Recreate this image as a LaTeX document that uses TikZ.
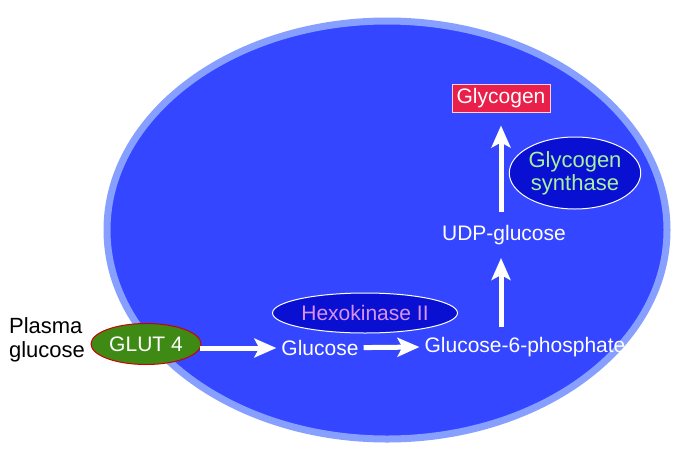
\documentclass[tikz,border=0pt]{standalone}
\usepackage{fontspec}
\setmainfont{Liberation Sans}
\usepackage{tikz}
\usetikzlibrary{arrows.meta,shapes.geometric}

\definecolor{cellblue}{RGB}{52,70,255}
\definecolor{cellrim}{RGB}{135,160,255}
\definecolor{enzblue}{RGB}{10,16,210}
\definecolor{glutgreen}{RGB}{62,138,20}
\definecolor{glyred}{RGB}{232,32,74}
\definecolor{hexoviolet}{RGB}{216,146,240}
\definecolor{synthgreen}{RGB}{168,240,160}

\tikzset{
  lbl/.style={font=\fontsize{21}{24}\selectfont, inner sep=2pt},
  enzyme/.style={lbl, ellipse, draw=white, line width=1pt, fill=enzblue},
  flow/.style={white, line width=5pt, -{Stealth[length=22pt,width=19pt,inset=5pt]}}
}

\begin{document}
\begin{tikzpicture}[x=1pt,y=-1pt]
\useasboundingbox (0,0) rectangle (700,466);

% the cell
\draw[cellrim, line width=7pt, fill=cellblue] (387,230) ellipse (280 and 209);

% outside
\node[lbl, align=left, font=\fontsize{22}{24}\selectfont] (plasma) at (47,340) {Plasma\\glucose};
\node[lbl, ellipse, draw=red!80!black, line width=1pt, fill=glutgreen, text=white,
      inner sep=0pt, minimum width=110pt, minimum height=41pt] (glut) at (146,344) {GLUT 4};

% metabolites
\node[lbl, white] (glc) at (320,348) {Glucose};
\node[lbl, white] (g6p) at (525,347) {Glucose-6-phosphate};
\node[lbl, white] (udp) at (504,235) {UDP-glucose};
\node[lbl, fill=glyred, draw=white!80!glyred, line width=1pt, text=white,
      minimum width=98pt, minimum height=28pt] (glyc) at (501,98) {Glycogen};

% enzymes
\node[enzyme, text=hexoviolet, inner sep=0pt, minimum width=185pt, minimum height=40pt] (hexo) at (365,313) {Hexokinase II};
\node[enzyme, text=synthgreen, align=center, inner sep=0pt, minimum width=110pt, minimum height=72pt,
      font=\fontsize{22}{23}\selectfont] (synth) at (575,173) {Glycogen\\synthase};

% arrows
\draw[flow, shorten <=-2pt, shorten >=3pt] (glut.east |- glc) -- (glc.west);
\draw[flow, shorten <=3pt, shorten >=3pt] (glc) -- (g6p.west);
\draw[flow, shorten <=8pt, shorten >=11pt] (g6p.north -| glyc) -- (udp.south -| glyc);
\draw[flow, shorten <=11pt, shorten >=13pt] (udp.north -| glyc) -- (glyc.south);
\end{tikzpicture}
\end{document}
